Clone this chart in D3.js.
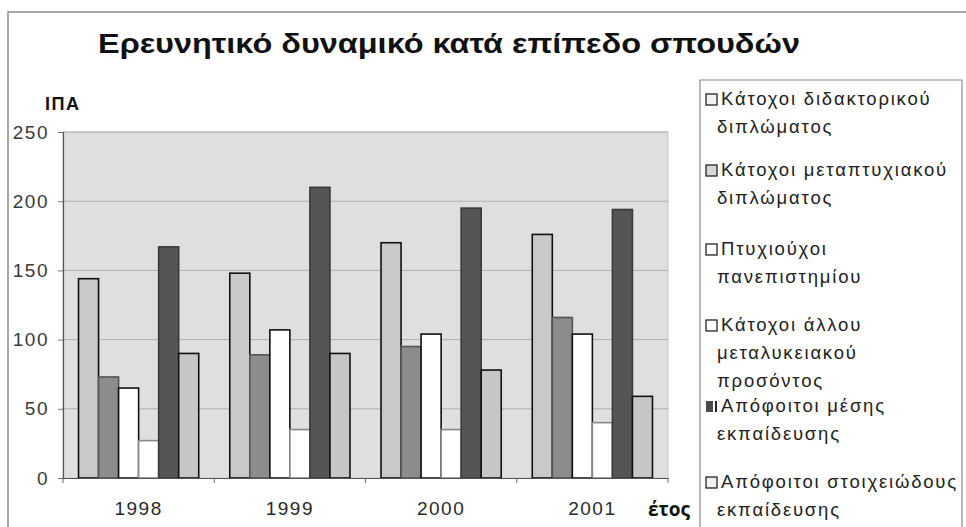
<!DOCTYPE html>
<html>
<head>
<meta charset="utf-8">
<script src="https://cdn.jsdelivr.net/npm/d3@7"></script>
<style>
  html, body { margin: 0; padding: 0; background: #fff; }
  svg { display: block; }
</style>
</head>
<body>
<svg id="chart" width="966" height="527"></svg>
<script>
const years = ["1998", "1999", "2000", "2001"];
const seriesNames = [
  ["Κάτοχοι διδακτορικού", "διπλώματος"],
  ["Κάτοχοι μεταπτυχιακού", "διπλώματος"],
  ["Πτυχιούχοι", "πανεπιστημίου"],
  ["Κάτοχοι άλλου", "μεταλυκειακού", "προσόντος"],
  ["Απόφοιτοι μέσης", "εκπαίδευσης"],
  ["Απόφοιτοι στοιχειώδους", "εκπαίδευσης"]
];
const doctorate   = [144, 148, 170, 176];
const postgrad    = [73, 89, 95, 116];
const university  = [65, 107, 104, 104];
const otherPost   = [27, 35, 35, 40];
const secondary   = [167, 210, 195, 194];
const primary     = [90, 90, 78, 59];
const yTicks = [0, 50, 100, 150, 200, 250];

const seriesValues = [doctorate, postgrad, university, otherPost, secondary, primary];
const fills   = ["#c9c9c9", "#8c8c8c", "#ffffff", "#ffffff", "#555555", "#c6c6c6"];
const strokes = ["#111111", "#555555", "#111111", "#888888", "#3a3a3a", "#111111"];
const markerFills = ["#f2f2f2", "#d6d6d6", "#ffffff", "#ffffff", "#4a4a4a", "#f0f0f0"];

const svg = d3.select("#chart");
const font = "Liberation Sans, Arial, sans-serif";

// outer chart border
svg.append("path").attr("d", "M8,527 V12 H966")
  .attr("fill", "none").attr("stroke", "#8a8a8a").attr("stroke-width", 1.5);

// title
svg.append("text").attr("x", 98).attr("y", 53)
  .attr("font-family", font).attr("font-weight", "bold").attr("font-size", 27)
  .attr("textLength", 702).attr("lengthAdjust", "spacingAndGlyphs")
  .attr("fill", "#111").text("Ερευνητικό δυναμικό κατά επίπεδο σπουδών");

const x0 = d3.scaleBand().domain(years).range([63, 668]).paddingInner(0).paddingOuter(0);
const x1 = d3.scaleBand().domain(d3.range(seriesValues.length))
  .range([0, x0.bandwidth()]).paddingInner(0).paddingOuter(0.775);
const y = d3.scaleLinear().domain([0, 250]).range([478, 132]);

// plot background
svg.append("rect").attr("x", x0.range()[0]).attr("y", y(250))
  .attr("width", x0.range()[1] - x0.range()[0]).attr("height", y(0) - y(250))
  .attr("fill", "#dfdfdf").attr("stroke", "#c8c8c8").attr("stroke-width", 1);

// gridlines
svg.append("g").selectAll("line").data(yTicks.filter(d => d > 0)).join("line")
  .attr("x1", x0.range()[0]).attr("x2", x0.range()[1])
  .attr("y1", d => y(d)).attr("y2", d => y(d))
  .attr("stroke", "#b0b0b0").attr("stroke-width", 1);

// bars
const groups = svg.append("g").selectAll("g").data(years).join("g")
  .attr("transform", d => `translate(${x0(d)},0)`);
groups.selectAll("rect").data((yr, i) => seriesValues.map((s, k) => ({k, v: s[i]}))).join("rect")
  .attr("x", d => x1(d.k)).attr("width", x1.bandwidth())
  .attr("y", d => y(d.v)).attr("height", d => y(0) - y(d.v))
  .attr("fill", d => fills[d.k]).attr("stroke", d => strokes[d.k]).attr("stroke-width", 1.6);

// y axis
const yAxis = d3.axisLeft(y).tickValues(yTicks).tickSize(5).tickPadding(9);
const gy = svg.append("g").attr("transform", `translate(${x0.range()[0]},0)`).call(yAxis);
gy.select(".domain").attr("stroke", "#555").attr("stroke-width", 1.2);
gy.selectAll(".tick line").attr("stroke", "#777");
gy.selectAll("text").attr("font-family", font).attr("font-size", 19).attr("letter-spacing", 1.5).attr("fill", "#3a3a3a");

// x axis
const xAxis = d3.axisBottom(x0).tickSize(0).tickPadding(24);
const gx = svg.append("g").attr("transform", `translate(0,${y(0)})`).call(xAxis);
gx.select(".domain").attr("stroke", "#555").attr("stroke-width", 1.2);
gx.selectAll("text").attr("font-family", font).attr("font-size", 19).attr("letter-spacing", 1.5).attr("fill", "#2a2a2a");
// category separator ticks
svg.append("g").selectAll("line").data(years.concat(["end"])).join("line")
  .attr("x1", (d, i) => x0.range()[0] + i * x0.step()).attr("x2", (d, i) => x0.range()[0] + i * x0.step())
  .attr("y1", y(0)).attr("y2", y(0) + 5).attr("stroke", "#666");

// axis titles
svg.append("text").attr("x", 45).attr("y", 110)
  .attr("font-family", font).attr("font-weight", "bold").attr("font-size", 18).attr("letter-spacing", 1.5)
  .attr("fill", "#111").text("ΙΠΑ");
svg.append("text").attr("x", 648).attr("y", 516)
  .attr("font-family", "Open Sans, sans-serif").attr("font-weight", "bold").attr("font-size", 19)
  .attr("fill", "#111").text("έτος");

// legend
const lg = svg.append("g");
lg.append("path").attr("d", "M700,535 V80 H962 V535")
  .attr("fill", "#fff").attr("stroke", "#8a8a8a").attr("stroke-width", 1.2);
const itemY = [99, 170, 249, 325, 406, 482];
const lineH = 28;
seriesNames.forEach((lines, k) => {
  const g = lg.append("g").attr("transform", `translate(0,${itemY[k]})`);
  if (k === 4) {
    g.append("rect").attr("x", 706).attr("y", -5).attr("width", 7).attr("height", 11).attr("fill", markerFills[k]);
    g.append("rect").attr("x", 715).attr("y", -5).attr("width", 2).attr("height", 11).attr("fill", "#222");
  } else {
    g.append("rect").attr("x", 706).attr("y", -5).attr("width", 11).attr("height", 11)
      .attr("fill", markerFills[k]).attr("stroke", "#222").attr("stroke-width", 1.3);
  }
  lines.forEach((t, j) => {
    g.append("text").attr("x", j === 0 ? 721 : 717).attr("y", j * lineH + 6)
      .attr("font-family", font).attr("font-size", 18.5).attr("letter-spacing", 1.8)
      .attr("fill", "#222").text(t);
  });
});
</script>
</body>
</html>
